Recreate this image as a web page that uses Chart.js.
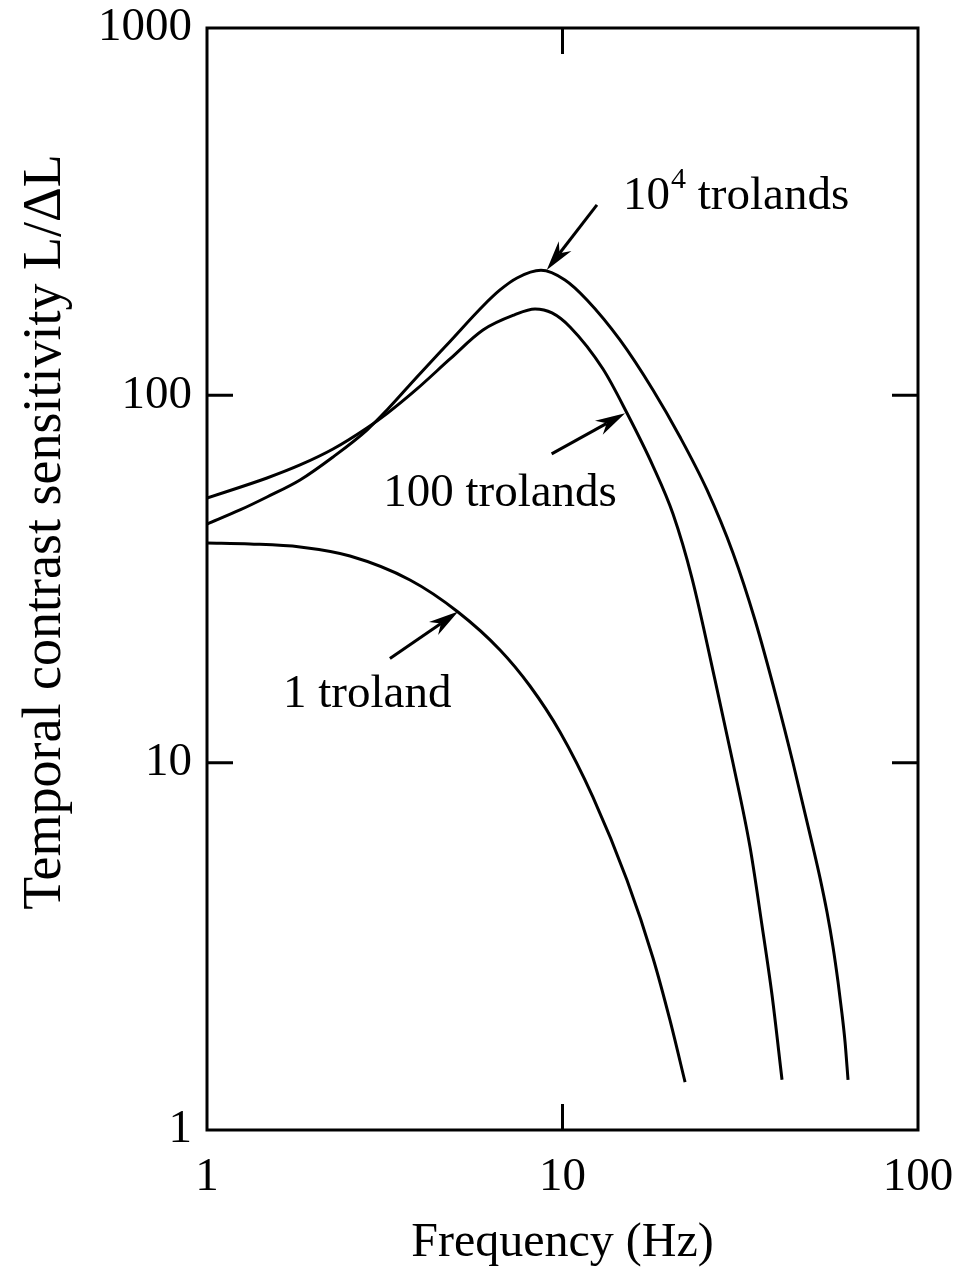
<!DOCTYPE html>
<html>
<head>
<meta charset="utf-8">
<script src="https://cdn.jsdelivr.net/npm/chart.js@4.4.0/dist/chart.umd.min.js"></script>
<style>
  html, body { margin: 0; padding: 0; background: #fff; }
  canvas { display: block; }
</style>
</head>
<body>
<canvas id="myChart" width="968" height="1272"></canvas>
<script>
// *******************  data

// 10^4 trolands
let freqHigh = [1, 1.238, 1.475, 1.827, 2.262, 2.818, 3.208, 3.896, 4.826, 5.975, 6.672, 7.447, 8.70, 10.16, 11.72, 14.51, 17.97, 21.41, 25.5, 30.17, 34.79, 40.13, 44.51, 50.66, 53.03, 55.46, 57.67, 59.57, 61.13, 62.33, 63.56];
let sensHigh = [44.63, 48.74, 52.87, 58.83, 67.95, 80.45, 91.22, 112.2, 140.2, 175.1, 193.6, 208.7, 218.9, 206.1, 181.8, 141.5, 103.4, 77.0, 55.25, 37.22, 24.45, 14.81, 9.98, 5.89, 4.85, 3.92, 3.15, 2.53, 2.07, 1.74, 1.37];

// 100 trolands
let freqMid = [1, 1.475, 1.827, 2.262, 2.818, 3.208, 3.896, 4.826, 5.975, 7.304, 8.369, 9.343, 10.5, 13.0, 15.18, 17.97, 20.46, 23.13, 26.85, 30.17, 33.69, 36.4, 38.85, 41.45];
let sensMid = [52.54, 59.57, 64.63, 71.43, 81.5, 89.2, 104.1, 125.6, 150.6, 165.4, 171.8, 167.6, 153.5, 117.9, 89.5, 64.2, 47.53, 31.82, 16.8, 9.98, 5.89, 3.61, 2.33, 1.37];

// 1 troland
let freqLow = [1, 1.321, 1.827, 2.525, 3.724, 5.082, 6.672, 8.1, 9.84, 12.18, 15.18, 17.97, 20.06, 22.12];
let sensLow = [39.63, 39.38, 38.65, 36.52, 31.43, 25.72, 20.27, 16.17, 12.12, 8.06, 4.79, 2.94, 1.99, 1.35];

let xTickVals = [1, 10, 100];
let yTickVals = [1, 10, 100, 1000];

let xTitle = 'Frequency (Hz)';
let yTitle = 'Temporal contrast sensitivity L/\u0394L';

// labels: left edge + baseline in data units
let curveLabels = [
  { base: '10', sup: '4', rest: ' trolands', f: 14.8, v: 321.8 },
  { base: '100 trolands', sup: '', rest: '', f: 3.13, v: 50 },
  { base: '1 troland', sup: '', rest: '', f: 1.636, v: 14.2 }
];
// arrows: tail -> tip in data units
let arrows = [
  { from: [12.5, 330], to: [9.03, 219.5] },
  { from: [9.32, 69.3], to: [15.0, 89.4] },
  { from: [3.27, 19.2], to: [5.09, 25.8] }
];

// *******************  helpers

const FONT = "'Liberation Serif', 'Times New Roman', serif";
const TICK = 26;

function toPoints(xs, ys){
  let pts = [];
  for(let i = 0; i < xs.length; i++){
    pts.push({x: xs[i], y: ys[i]});
  }
  return pts;
}

function curve(label, xs, ys){
  return {
    label: label,
    data: toPoints(xs, ys),
    borderColor: '#000',
    borderWidth: 3,
    pointRadius: 0,
    fill: false,
    cubicInterpolationMode: 'monotone'
  };
}

function drawArrow(ctx, x0, y0, x1, y1){
  let ang = Math.atan2(y1 - y0, x1 - x0);
  let len = 30, half = 8, notch = 9;
  let cx = Math.cos(ang), sy = Math.sin(ang);
  ctx.beginPath();
  ctx.moveTo(x0, y0);
  ctx.lineTo(x1 - cx * (len - notch), y1 - sy * (len - notch));
  ctx.lineWidth = 3;
  ctx.stroke();
  let bx = x1 - cx * len, by = y1 - sy * len;
  let nx = -sy, ny = cx;
  ctx.beginPath();
  ctx.moveTo(x1, y1);
  ctx.lineTo(bx + nx * half, by + ny * half);
  ctx.lineTo(x1 - cx * (len - notch), y1 - sy * (len - notch));
  ctx.lineTo(bx - nx * half, by - ny * half);
  ctx.closePath();
  ctx.fill();
}

// frame, inward ticks, arrows, curve labels, y title
const decorPlugin = {
  id: 'decor',
  afterDatasetsDraw(chart){
    const {ctx, chartArea: a, scales: {x, y}} = chart;
    ctx.save();
    ctx.strokeStyle = '#000';
    ctx.fillStyle = '#000';
    ctx.lineWidth = 3;
    ctx.strokeRect(a.left, a.top, a.right - a.left, a.bottom - a.top);

    ctx.beginPath();
    xTickVals.forEach(v => {
      if(v > x.min && v < x.max){
        let px = x.getPixelForValue(v);
        ctx.moveTo(px, a.bottom); ctx.lineTo(px, a.bottom - TICK);
        ctx.moveTo(px, a.top); ctx.lineTo(px, a.top + TICK);
      }
    });
    yTickVals.forEach(v => {
      if(v > y.min && v < y.max){
        let py = y.getPixelForValue(v);
        ctx.moveTo(a.left, py); ctx.lineTo(a.left + TICK, py);
        ctx.moveTo(a.right, py); ctx.lineTo(a.right - TICK, py);
      }
    });
    ctx.stroke();

    arrows.forEach(ar => {
      drawArrow(ctx,
        x.getPixelForValue(ar.from[0]), y.getPixelForValue(ar.from[1]),
        x.getPixelForValue(ar.to[0]), y.getPixelForValue(ar.to[1]));
    });

    ctx.textBaseline = 'alphabetic';
    ctx.textAlign = 'left';
    curveLabels.forEach(lb => {
      let px = x.getPixelForValue(lb.f);
      let py = y.getPixelForValue(lb.v);
      ctx.font = '47px ' + FONT;
      ctx.fillText(lb.base, px, py);
      px += ctx.measureText(lb.base).width;
      if(lb.sup){
        ctx.font = '30px ' + FONT;
        ctx.fillText(lb.sup, px + 1, py - 21);
        px += ctx.measureText(lb.sup).width + 1;
      }
      if(lb.rest){
        ctx.font = '47px ' + FONT;
        ctx.fillText(lb.rest, px, py);
      }
    });

    // y axis title (sits a little above the axis middle in the original)
    ctx.translate(60, 532);
    ctx.rotate(-Math.PI / 2);
    ctx.textAlign = 'center';
    ctx.font = '54px ' + FONT;
    ctx.fillText(yTitle, 0, 0);
    ctx.restore();
  }
};

// *******************  chart

let ctx = document.getElementById('myChart');

new Chart(ctx, {
  type: 'line',
  data: {
    datasets: [
      curve('10^4 trolands', freqHigh, sensHigh),
      curve('100 trolands', freqMid, sensMid),
      curve('1 troland', freqLow, sensLow)
    ]
  },
  options: {
    responsive: false,
    animation: false,
    devicePixelRatio: 1,
    layout: { padding: { top: 28, right: 50, bottom: 0, left: 0 } },
    plugins: {
      legend: { display: false },
      tooltip: { enabled: false }
    },
    scales: {
      x: {
        type: 'logarithmic',
        min: 1,
        max: 100,
        grid: { display: false, drawTicks: false },
        border: { display: false },
        afterBuildTicks: axis => { axis.ticks = xTickVals.map(v => ({value: v})); },
        afterFit: axis => {
          axis.height = 142;
          axis.paddingLeft = 0;
          axis.paddingRight = 0;
        },
        ticks: {
          color: '#000',
          padding: 24,
          maxRotation: 0,
          font: { family: FONT, size: 47, lineHeight: 1.0 },
          callback: v => String(v)
        },
        title: {
          display: true,
          text: xTitle,
          color: '#000',
          font: { family: FONT, size: 48, lineHeight: 1.2 },
          padding: { top: 0, bottom: 0 }
        }
      },
      y: {
        type: 'logarithmic',
        min: 1,
        max: 1000,
        grid: { display: false, drawTicks: false },
        border: { display: false },
        afterBuildTicks: axis => { axis.ticks = yTickVals.map(v => ({value: v})); },
        afterFit: axis => {
          axis.width = 207;
          axis.paddingTop = 0;
          axis.paddingBottom = 0;
        },
        ticks: {
          color: '#000',
          padding: 15,
          font: { family: FONT, size: 47, lineHeight: 1.0 },
          callback: v => String(v)
        }
      }
    }
  },
  plugins: [decorPlugin]
});
</script>
</body>
</html>
